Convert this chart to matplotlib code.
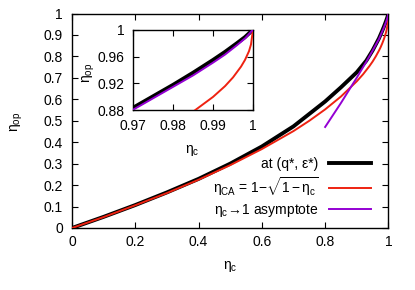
import matplotlib
matplotlib.use("Agg")
import matplotlib.pyplot as plt
from matplotlib.ticker import FuncFormatter

plt.rcParams['font.family'] = ['Liberation Sans', 'DejaVu Sans']
plt.rcParams['mathtext.fontset'] = 'custom'
plt.rcParams['mathtext.rm'] = 'Liberation Sans'
plt.rcParams['mathtext.it'] = 'Liberation Sans'
plt.rcParams['mathtext.bf'] = 'Liberation Sans:bold'

# values
eta_c = [0.0, 0.1, 0.2, 0.3, 0.4, 0.5, 0.6, 0.7, 0.8, 0.85, 0.9, 0.93,
         0.95, 0.97, 0.975, 0.98, 0.985, 0.99, 0.993, 0.996, 0.998, 1.0]
eta_opt = [0.0, 0.052, 0.107, 0.166, 0.229, 0.300, 0.380, 0.474, 0.590,
           0.656, 0.726, 0.780, 0.828, 0.884, 0.901, 0.918, 0.936, 0.955,
           0.967, 0.980, 0.989, 1.0]

ca_x = [0.0, 0.1, 0.2, 0.3, 0.4, 0.5, 0.6, 0.7, 0.75, 0.8, 0.85, 0.9, 0.92,
        0.94, 0.95, 0.96, 0.97, 0.975, 0.98, 0.985, 0.99, 0.993, 0.995,
        0.997, 0.998, 0.999, 0.9995, 1.0]
ca_y = [0.0, 0.051, 0.106, 0.163, 0.225, 0.293, 0.368, 0.452, 0.500, 0.553,
        0.613, 0.684, 0.717, 0.755, 0.776, 0.800, 0.827, 0.842, 0.859, 0.878,
        0.900, 0.916, 0.929, 0.945, 0.955, 0.968, 0.978, 1.0]

asym_x = [0.8, 0.85, 0.88, 0.9, 0.93, 0.95, 0.97, 0.975, 0.98, 0.985, 0.99,
          0.993, 0.996, 0.998, 1.0]
asym_y = [0.471, 0.583, 0.654, 0.701, 0.775, 0.827, 0.881, 0.898, 0.915,
          0.932, 0.951, 0.963, 0.977, 0.987, 1.0]

x_ticks = [0, 0.2, 0.4, 0.6, 0.8, 1.0]
y_ticks = [0, 0.1, 0.2, 0.3, 0.4, 0.5, 0.6, 0.7, 0.8, 0.9, 1.0]
inset_x_ticks = [0.97, 0.98, 0.99, 1.0]
inset_y_ticks = [0.88, 0.92, 0.96, 1.0]

black = 'black'
red = '#ee2211'
purple = '#9400d3'
fs = 10

fig = plt.figure(figsize=(4.15, 2.9), dpi=100)
ax = fig.add_axes([0.1735, 0.2138, 0.7625, 0.7396])


def style(a, xpad, ypad):
    a.tick_params(direction='in', which='both', top=True, right=True,
                  length=4, width=0.8, labelsize=fs)
    a.tick_params(axis='x', pad=xpad)
    a.tick_params(axis='y', pad=ypad)
    for s in a.spines.values():
        s.set_linewidth(1.0)


def fmt(v, pos):
    return '%g' % round(v, 4)


ax.plot(eta_c, eta_opt, color=black, lw=2.8, label='at (q*, ε*)', zorder=3)
ax.plot(ca_x, ca_y, color=red, lw=1.4,
        label=r'$\eta_{\rm CA}$ = 1$-\sqrt{1-\eta_{\rm c}}$', zorder=4)
ax.plot(asym_x, asym_y, color=purple, lw=1.4,
        label=r'$\eta_{\rm c}\!\rightarrow\!$1 asymptote', zorder=5)
ax.set_xlim(0, 1)
ax.set_ylim(0, 1)
ax.set_xticks(x_ticks)
ax.set_yticks(y_ticks)
ax.xaxis.set_major_formatter(FuncFormatter(fmt))
ax.yaxis.set_major_formatter(FuncFormatter(fmt))
style(ax, 5.3, 6.5)
fig.text(17 / 415, 1 - 122 / 290, r'$\eta_{\rm op}$', rotation=90,
         ha='center', va='center', fontsize=fs)
fig.text(230 / 415, 1 - 266 / 290, r'$\eta_{\rm c}$', ha='center',
         va='center', fontsize=fs)

leg = ax.legend(loc='center right', bbox_to_anchor=(371 / 415, 1 - 188 / 290),
                bbox_transform=fig.transFigure, frameon=False,
                markerfirst=False, fontsize=fs, handlelength=3.0,
                handletextpad=0.8, labelspacing=0.3, borderpad=0,
                borderaxespad=0)

# inset
ins = fig.add_axes([0.3212, 0.6197, 0.2884, 0.2779])
ins.plot(eta_c, eta_opt, color=black, lw=2.8, zorder=3)
ins.plot(ca_x, ca_y, color=red, lw=1.4, zorder=4)
ins.plot(asym_x, asym_y, color=purple, lw=1.4, zorder=5)
ins.set_xlim(0.97, 1.0)
ins.set_ylim(0.88, 1.0)
ins.set_xticks(inset_x_ticks)
ins.set_yticks(inset_y_ticks)
ins.xaxis.set_major_formatter(FuncFormatter(fmt))
ins.yaxis.set_major_formatter(FuncFormatter(fmt))
style(ins, 6.5, 6.5)
fig.text(89 / 415, 1 - 73 / 290, r'$\eta_{\rm op}$', rotation=90,
         ha='center', va='center', fontsize=fs)
fig.text(192 / 415, 1 - 151 / 290, r'$\eta_{\rm c}$', ha='center',
         va='center', fontsize=fs)

fig.savefig('out.png', dpi=100)
